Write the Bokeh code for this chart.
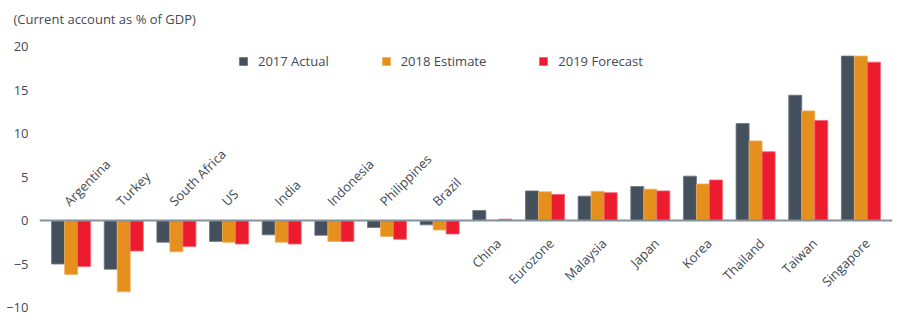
import math
from bokeh.plotting import figure
from bokeh.models import ColumnDataSource, FactorRange, Span, Legend, LegendItem, FixedTicker
from bokeh.transform import dodge
from bokeh.core.properties import value
from bokeh.embed import file_html
from bokeh.resources import INLINE

# ---------------- data ----------------
countries = ["Argentina", "Turkey", "South Africa", "US", "India", "Indonesia",
             "Philippines", "Brazil", "China", "Eurozone", "Malaysia", "Japan",
             "Korea", "Thailand", "Taiwan", "Singapore"]
actual_2017 = [-5.0, -5.6, -2.5, -2.4, -1.65, -1.7, -0.8, -0.5,
               1.15, 3.4, 2.8, 3.9, 5.1, 11.15, 14.4, 18.9]
estimate_2018 = [-6.2, -8.2, -3.6, -2.5, -2.5, -2.4, -1.85, -1.1,
                 0.05, 3.3, 3.35, 3.6, 4.2, 9.15, 12.6, 18.9]
forecast_2019 = [-5.3, -3.5, -3.0, -2.7, -2.7, -2.4, -2.15, -1.55,
                 0.15, 3.0, 3.2, 3.4, 4.65, 7.9, 11.5, 18.2]
series_names = ["2017 Actual", "2018 Estimate", "2019 Forecast"]
y_ticks = [-10, -5, 0, 5, 10, 15, 20]
title_text = "(Current account as % of GDP)"

# ---------------- style ----------------
colors = ["#44505b", "#e58f1d", "#ec1c2e"]
edge = ["#6b7680", "#f0b060", "#f26070"]
text_color = "#3f4a54"
font = "Open Sans"
bar_w = 0.247

p = figure(width=904, height=332, output_backend="svg", toolbar_location=None,
           x_range=FactorRange(factors=countries, range_padding=0.1,
                               range_padding_units="absolute"),
           y_range=(-10 - 13 / 8.7, 20 + 16 / 8.7),
           x_axis_location=None, min_border_left=39, min_border_right=12,
           min_border_top=30, min_border_bottom=12)
p.outline_line_color = None
p.grid.visible = False
p.background_fill_color = "white"
p.border_fill_color = "white"

p.title.text = title_text
p.title.align = "left"
p.title.offset = -26
p.title.standoff = 5
p.title.text_font = font
p.title.text_font_size = "13px"
p.title.text_font_style = "normal"
p.title.text_color = text_color

ax = p.yaxis[0]
ax.ticker = FixedTicker(ticks=y_ticks)
ax.axis_line_color = None
ax.major_tick_line_color = None
ax.minor_tick_line_color = None
ax.major_tick_out = 0
ax.major_label_standoff = 11
ax.major_label_text_font = font
ax.major_label_text_font_size = "13px"
ax.major_label_text_color = text_color

src = ColumnDataSource(dict(country=countries, a=actual_2017,
                            e=estimate_2018, f=forecast_2019))
renderers = []
for i, col in enumerate(["a", "e", "f"]):
    r = p.vbar(x=dodge("country", (i - 1) * bar_w, range=p.x_range), top=col,
               width=bar_w, source=src, fill_color=colors[i],
               line_color=edge[i], line_width=0.8)
    renderers.append(r)

p.add_layout(Span(location=0, dimension="width", line_color="#86929b",
                  line_width=2))

# country labels
neg = [c for c, a, e, f in zip(countries, actual_2017, estimate_2018, forecast_2019) if a + e + f < 0]
pos = [c for c, a, e, f in zip(countries, actual_2017, estimate_2018, forecast_2019) if a + e + f >= 0]
neg_src = ColumnDataSource(dict(x=neg, y=[1.95] * len(neg)))
pos_src = ColumnDataSource(dict(x=pos, y=[-1.6] * len(pos)))
p.text(x="x", y="y", text="x", source=neg_src, angle=math.pi / 4,
       text_align="left", text_baseline="alphabetic", x_offset=-5,
       text_font=value(font), text_font_size="13px", text_color=text_color)
p.text(x="x", y="y", text="x", source=pos_src, angle=math.pi / 4,
       text_align="right", text_baseline="top", x_offset=0,
       text_font=value(font), text_font_size="13px", text_color=text_color)

legend = Legend(items=[LegendItem(label=n, renderers=[r]) for n, r in zip(series_names, renderers)],
                orientation="horizontal", location=(199, 250),
                glyph_width=10, glyph_height=10, label_standoff=10, spacing=52,
                padding=0, margin=0, border_line_color=None,
                background_fill_alpha=0, label_text_font=font,
                label_text_font_size="13px", label_text_color=text_color,
                label_height=14)
p.add_layout(legend)

open("out.html", "w").write(file_html(p, INLINE))
